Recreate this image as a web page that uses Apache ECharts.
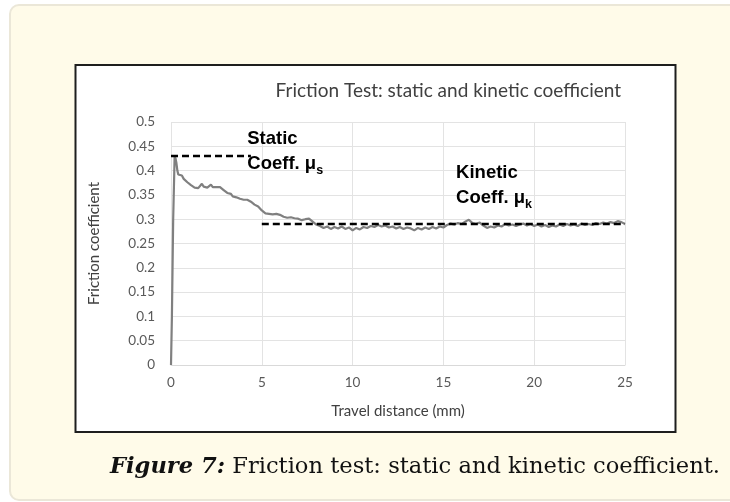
<!DOCTYPE html>
<html>
<head>
<meta charset="utf-8">
<script src="https://cdn.jsdelivr.net/npm/echarts@6/dist/echarts.min.js"></script>
<style>
  html, body { margin: 0; padding: 0; background: #ffffff; }
  #chart { width: 730px; height: 502px; }
</style>
</head>
<body>
<div id="chart"></div>
<script>
// ---- Data ----
const chartTitle = 'Friction Test: static and kinetic coefficient';
const xAxisName = 'Travel distance (mm)';
const yAxisName = 'Friction coefficient';
const captionBold = 'Figure 7:';
const captionRest = ' Friction test: static and kinetic coefficient.';

const travelMm = [
  0, 0.05, 0.12, 0.2, 0.25, 0.3, 0.35, 0.4, 0.5, 0.6, 0.7, 0.8, 0.9, 1.0,
  1.1, 1.2, 1.3, 1.4, 1.5, 1.6, 1.7, 1.8, 1.9, 2.0, 2.1, 2.2, 2.3, 2.4, 2.5,
  2.6, 2.7, 2.8, 2.9, 3.0, 3.1, 3.2, 3.3, 3.4, 3.5, 3.6, 3.7, 3.8, 3.9, 4.0,
  4.1, 4.2, 4.3, 4.4, 4.5, 4.6, 4.7, 4.8, 4.9, 5.0, 5.1, 5.2, 5.3, 5.4, 5.5,
  5.6, 5.7, 5.8, 5.9, 6.0, 6.1, 6.2, 6.3, 6.4, 6.5, 6.6, 6.7, 6.8, 6.9, 7.0,
  7.1, 7.2, 7.3, 7.4, 7.5, 7.6, 7.7, 7.8, 7.9, 8.0, 8.2, 8.4, 8.6, 8.8, 9.0,
  9.2, 9.4, 9.6, 9.8, 10.0, 10.2, 10.4, 10.6, 10.8, 11.0, 11.2, 11.4, 11.6,
  11.8, 12.0, 12.2, 12.4, 12.6, 12.8, 13.0, 13.2, 13.4, 13.6, 13.8, 14.0,
  14.2, 14.4, 14.6, 14.8, 15.0, 15.2, 15.4, 15.6, 15.8, 16.0, 16.2, 16.4,
  16.6, 16.8, 17.0, 17.2, 17.4, 17.6, 17.8, 18.0, 18.2, 18.4, 18.6, 18.8,
  19.0, 19.2, 19.4, 19.6, 19.8, 20.0, 20.2, 20.4, 20.6, 20.8, 21.0, 21.2,
  21.4, 21.6, 21.8, 22.0, 22.2, 22.4, 22.6, 22.8, 23.0, 23.2, 23.4, 23.6,
  23.8, 24.0, 24.2, 24.4, 24.6, 24.8, 25.0
];
const frictionCoeff = [
  0, 0.10, 0.30, 0.43, 0.425, 0.415, 0.400, 0.392, 0.388, 0.390, 0.383, 0.381, 0.376, 0.374,
  0.370, 0.368, 0.365, 0.361, 0.364, 0.368, 0.373, 0.367, 0.369, 0.365, 0.368, 0.371, 0.366, 0.368, 0.366,
  0.364, 0.366, 0.362, 0.360, 0.357, 0.354, 0.350, 0.352, 0.347, 0.349, 0.345, 0.347, 0.342, 0.344, 0.340,
  0.337, 0.340, 0.344, 0.336, 0.333, 0.330, 0.331, 0.326, 0.323, 0.318, 0.316, 0.312, 0.314, 0.311, 0.313,
  0.310, 0.314, 0.311, 0.313, 0.309, 0.307, 0.305, 0.306, 0.303, 0.301, 0.304, 0.300, 0.302, 0.305, 0.301,
  0.303, 0.298, 0.296, 0.300, 0.298, 0.301, 0.297, 0.295, 0.293, 0.289, 0.286, 0.282, 0.285, 0.280, 0.284,
  0.281, 0.285, 0.280, 0.283, 0.277, 0.282, 0.279, 0.284, 0.282, 0.286, 0.284, 0.288, 0.285,
  0.287, 0.283, 0.285, 0.281, 0.284, 0.280, 0.283, 0.281, 0.277, 0.282, 0.279, 0.283,
  0.280, 0.284, 0.281, 0.285, 0.283, 0.288, 0.291, 0.289, 0.292, 0.290, 0.295, 0.299,
  0.292, 0.290, 0.293, 0.287, 0.282, 0.285, 0.283, 0.287, 0.285, 0.290, 0.287, 0.289,
  0.286, 0.289, 0.291, 0.287, 0.290, 0.286, 0.289, 0.285, 0.288, 0.284, 0.287, 0.285,
  0.289, 0.286, 0.290, 0.287, 0.289, 0.286, 0.291, 0.288, 0.290, 0.288, 0.292, 0.290,
  0.293, 0.291, 0.294, 0.292, 0.296, 0.294, 0.290
];

// Dashed reference lines [x, y]
const staticLine = [[0, 0.43], [4.4, 0.43]];
const kineticLine = [[5, 0.29], [25, 0.29]];

// Annotation anchors (data coordinates, top-left of text)
const staticLabelAt = [4.2, 0.49];
const kineticLabelAt = [15.7, 0.42];

const xTicks = { min: 0, max: 25, interval: 5 };
const yTicks = { min: 0, max: 0.5, interval: 0.05 };

// ---- Chart ----
const chart = echarts.init(document.getElementById('chart'), null, { renderer: 'canvas' });
const seriesData = travelMm.map((x, i) => [x, frictionCoeff[i]]);

const baseFont = 'Lato, "Open Sans", sans-serif';
const annFont = '"Liberation Sans", Arial, sans-serif';
const serifFont = '"DejaVu Serif", "Liberation Serif", serif';

const option = {
  backgroundColor: '#ffffff',
  animation: false,
  title: {
    text: chartTitle,
    right: 104,
    top: 76,
    textStyle: { fontFamily: baseFont, fontSize: 19, fontWeight: 'normal', color: '#404040' }
  },
  grid: { left: 171, right: 105, top: 122, bottom: 137, containLabel: false },
  xAxis: {
    type: 'value',
    min: xTicks.min, max: xTicks.max, interval: xTicks.interval,
    name: xAxisName,
    nameLocation: 'middle',
    nameGap: 39,
    nameTextStyle: { fontFamily: baseFont, fontSize: 15, color: '#404040' },
    axisLine: { show: true, lineStyle: { color: '#d9d9d9', width: 1 } },
    axisTick: { show: false },
    axisLabel: { margin: 11, fontFamily: baseFont, fontSize: 13.5, color: '#595959' },
    splitLine: { show: true, lineStyle: { color: '#e3e3e3', width: 1 } }
  },
  yAxis: {
    type: 'value',
    min: yTicks.min, max: yTicks.max, interval: yTicks.interval,
    name: yAxisName,
    nameLocation: 'middle',
    nameGap: 69,
    nameTextStyle: { fontFamily: baseFont, fontSize: 15, color: '#404040' },
    axisLine: { show: false },
    axisTick: { show: false },
    axisLabel: { margin: 16, fontFamily: baseFont, fontSize: 13.5, color: '#595959' },
    splitLine: { show: true, lineStyle: { color: '#e3e3e3', width: 1 } }
  },
  series: [
    {
      type: 'line',
      data: seriesData,
      showSymbol: false,
      symbol: 'none',
      lineStyle: { color: '#808080', width: 2.2 },
      z: 3
    },
    {
      type: 'line',
      data: staticLine,
      showSymbol: false,
      symbol: 'none',
      lineStyle: { color: '#000000', width: 2.5, type: [7, 4] },
      z: 4
    },
    {
      type: 'line',
      data: kineticLine,
      showSymbol: false,
      symbol: 'none',
      lineStyle: { color: '#000000', width: 2.5, type: [7, 4] },
      z: 4
    }
  ]
};
chart.setOption(option);

function annText(first, sub, at) {
  const p = chart.convertToPixel({ gridIndex: 0 }, at);
  return {
    type: 'text',
    x: p[0], y: p[1],
    z: 10,
    style: {
      text: '{b|' + first + '}\n{b|Coeff. μ}{s|' + sub + '}',
      rich: {
        b: { fontFamily: annFont, fontSize: 18.5, fontWeight: 'bold', fill: '#000', lineHeight: 25 },
        s: { fontFamily: annFont, fontSize: 12.5, fontWeight: 'bold', fill: '#000', lineHeight: 25, verticalAlign: 'bottom' }
      },
      align: 'left',
      verticalAlign: 'top'
    }
  };
}

chart.setOption({
  graphic: [
    {
      type: 'rect', z: -10, silent: true,
      shape: { x: 10, y: 5, width: 740, height: 495, r: 9 },
      style: { fill: '#fffbe9', stroke: '#ebe7d8', lineWidth: 2 }
    },
    {
      type: 'rect', z: -9, silent: true,
      shape: { x: 75.5, y: 65, width: 600, height: 367 },
      style: { fill: '#ffffff', stroke: '#1e1e1e', lineWidth: 2 }
    },
    annText('Static', 's', staticLabelAt),
    annText('Kinetic', 'k', kineticLabelAt),
    {
      type: 'text', z: 10, x: 415, y: 467,
      style: {
        text: '{b|' + captionBold + '}{r|' + captionRest + '}',
        rich: {
          b: { fontFamily: serifFont, fontSize: 22.6, fontWeight: 'bold', fontStyle: 'italic', fill: '#111' },
          r: { fontFamily: serifFont, fontSize: 22.6, fill: '#111' }
        },
        align: 'center',
        verticalAlign: 'middle'
      }
    }
  ]
});
</script>
</body>
</html>
